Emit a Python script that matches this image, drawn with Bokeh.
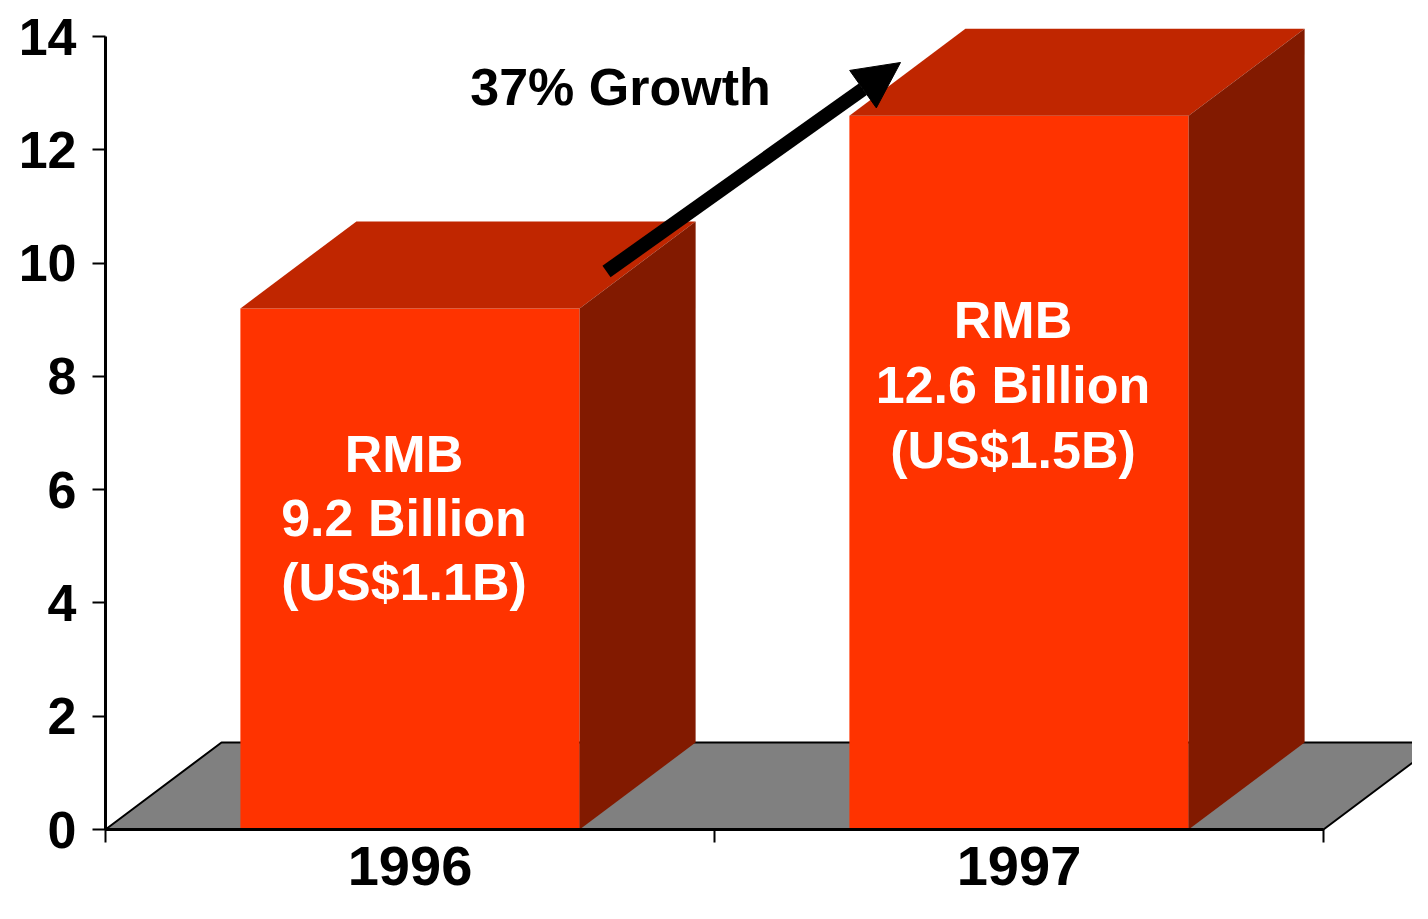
from bokeh.plotting import figure
from bokeh.models import Range1d, FixedTicker, Arrow, NormalHead
from bokeh.core.properties import value
from bokeh.embed import file_html
from bokeh.resources import INLINE

# ---- data ----
years = ["1996", "1997"]
revenue_rmb_bn = [9.2, 12.6]
label_rmb = ["RMB", "RMB"]
label_bn = ["9.2 Billion", "12.6 Billion"]
label_usd = ["(US$1.1B)", "(US$1.5B)"]
growth_text = "37% Growth"
y_ticks = [0, 2, 4, 6, 8, 10, 12, 14]

FONT = "Liberation Sans"
FRONT = "#FF3300"
TOP = "#C02600"
SIDE = "#821A00"
FLOOR = "#808080"

W, H = 1412, 903
# x: category units (boundaries at 0,1,2); y: value units
px_per_x = 609.0
px_per_y = 56.64
x0_px, y0_px = 105.0, 829.0
x_lo = (0 - x0_px) / px_per_x
x_hi = (W - x0_px) / px_per_x
y_hi = (y0_px - 0) / px_per_y
y_lo = (y0_px - H) / px_per_y

dx = 116.0 / px_per_x   # depth offset (x)
dy = 87.0 / px_per_y    # depth offset (y)
bar_w = 0.557
txt_fix = 19.0 / px_per_y  # baseline correction


def ypx(py):
    return (y0_px - py) / px_per_y + txt_fix


p = figure(width=W, height=H, output_backend="svg", toolbar_location=None,
           x_range=Range1d(x_lo, x_hi), y_range=Range1d(y_lo, y_hi),
           min_border=0, min_border_left=0, min_border_right=0,
           min_border_top=0, min_border_bottom=0)
p.outline_line_color = None
p.grid.visible = False
p.background_fill_color = "white"
p.border_fill_color = "white"

# floor
n = len(years)
p.patch([0, n, n + dx, dx], [0, 0, dy, dy], fill_color=FLOOR,
        line_color="black", line_width=2)

# bars
for i, v in enumerate(revenue_rmb_bn):
    c = i + 0.5
    l, r = c - bar_w / 2, c + bar_w / 2
    p.patch([l, r, r, l], [0, 0, v, v], fill_color=FRONT, line_color=None)
    p.patch([l, r, r + dx, l + dx], [v, v, v + dy, v + dy],
            fill_color=TOP, line_color=None)
    p.patch([r, r + dx, r + dx, r], [0, dy, v + dy, v],
            fill_color=SIDE, line_color=None)

# labels inside bars (baselines in px of the picture)
lab_base = {0: [472, 536, 600], 1: [338, 403, 468]}
for i in range(n):
    c = i + 0.5 - 6.0 / px_per_x
    lines = [label_rmb[i], label_bn[i], label_usd[i]]
    p.text(x=[c] * 3, y=[ypx(b) for b in lab_base[i]], text=lines,
           text_color="white", text_font=value(FONT),
           text_font_style="bold", text_font_size="52px",
           text_align="center", text_baseline="alphabetic")

# growth text
p.text(x=[(620 - x0_px) / px_per_x], y=[ypx(105)],
       text=[growth_text], text_color="black", text_font=value(FONT),
       text_font_style="bold", text_font_size="52px", text_align="center",
       text_baseline="alphabetic")

# growth arrow
p.add_layout(Arrow(
    end=NormalHead(size=46, fill_color="black", line_color="black", line_width=1),
    x_start=(606 - x0_px) / px_per_x, y_start=(y0_px - 271) / px_per_y,
    x_end=(900 - x0_px) / px_per_x, y_end=(y0_px - 62) / px_per_y,
    line_color="black", line_width=14, line_cap="butt"))

# axes
ya = p.yaxis[0]
ya.fixed_location = 0
ya.bounds = (0, 14)
ya.ticker = FixedTicker(ticks=y_ticks, minor_ticks=[])
ya.axis_line_width = 3
ya.major_tick_line_width = 2
ya.major_tick_out = 13
ya.major_tick_in = 0
ya.minor_tick_line_color = None
ya.major_label_standoff = 16
ya.major_label_text_font = FONT
ya.major_label_text_font_style = "bold"
ya.major_label_text_font_size = "52px"
ya.major_label_text_color = "black"

xa = p.xaxis[0]
xa.fixed_location = 0
xa.bounds = (0, n)
xa.ticker = FixedTicker(ticks=[i + 0.5 for i in range(n)],
                        minor_ticks=list(range(n + 1)))
xa.major_label_overrides = {i + 0.5: y for i, y in enumerate(years)}
xa.axis_line_width = 3
xa.major_tick_line_color = None
xa.major_tick_out = 13
xa.major_tick_in = 0
xa.minor_tick_line_width = 2
xa.minor_tick_out = 13
xa.minor_tick_in = 0
xa.major_label_standoff = 4
xa.major_label_text_font = FONT
xa.major_label_text_font_style = "bold"
xa.major_label_text_font_size = "56px"
xa.major_label_text_color = "black"

open("out.html", "w").write(file_html(p, INLINE))
